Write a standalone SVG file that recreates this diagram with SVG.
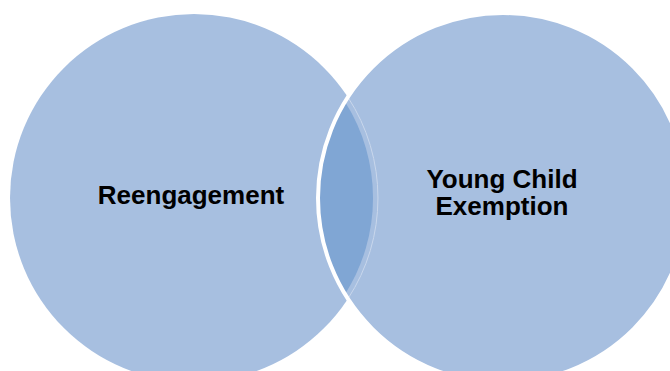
<svg xmlns="http://www.w3.org/2000/svg" width="670" height="371" viewBox="0 0 670 371">
<style>
.c{fill:#a7bfe0;}
.lens{fill:#80a6d4;}
.t{font-family:"Liberation Sans",Arial,sans-serif;font-weight:bold;font-size:26px;fill:#000;text-anchor:middle;}
</style>
<rect width="670" height="371" fill="#ffffff"/>
<g id="node-reengagement">
<circle class="c" cx="194" cy="198" r="184"/>
<text class="t" x="191" y="204">Reengagement</text>
</g>
<g id="node-young-child">
<circle class="c" cx="503" cy="198" r="185"/>
<path class="lens" d="M 344.96 101.8 A 179 179 0 0 1 344.96 294.2 A 185 185 0 0 1 344.96 101.8 Z"/>
<path d="M 347.9 97.2 A 184 184 0 0 1 347.9 298.8" fill="none" stroke="#c9d7ec" stroke-width="1"/>
<circle cx="503" cy="198" r="185" fill="none" stroke="#ffffff" stroke-width="4"/>
<text class="t" x="502" y="188">Young Child<tspan x="502" y="215">Exemption</tspan></text>
</g>
<g id="connectors"></g>
</svg>
